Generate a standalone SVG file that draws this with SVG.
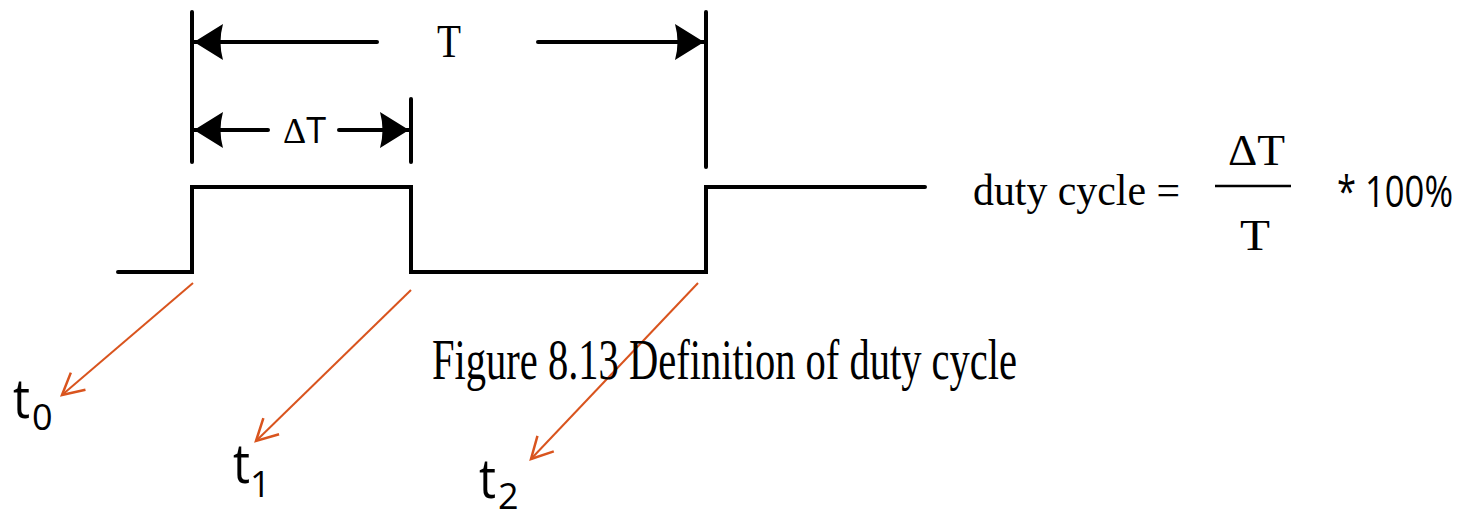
<svg xmlns="http://www.w3.org/2000/svg" width="1462" height="512" viewBox="0 0 1462 512">
<style>
.blk{fill:none;stroke:#000;stroke-width:4;stroke-linecap:round}
.red{fill:none;stroke:#D9541E;stroke-width:2}
.serif{font-family:"Liberation Serif","Times New Roman",serif;fill:#000}
.sans{font-family:"Open Sans","Noto Sans",sans-serif;fill:#000}
.tl{font-size:54px}
.sub{font-size:36px}
</style>
<defs>
<marker id="ah" markerUnits="userSpaceOnUse" markerWidth="40" markerHeight="40" viewBox="-32 -20 34 40" refX="0" refY="0" orient="auto">
<path d="M0,0 L-29,-18 Q-24,0 -29,18 Z" fill="#000"/>
</marker>
<marker id="ra" markerUnits="userSpaceOnUse" markerWidth="30" markerHeight="30" viewBox="-20 -12 22 24" refX="0" refY="0" orient="auto">
<path d="M-17,-9 L0,0 L-17,9" fill="none" stroke="#D9541E" stroke-width="2"/>
</marker>
</defs>
<rect width="1462" height="512" fill="#fff"/>
<g id="waveform">
<polyline class="blk" stroke-linejoin="miter" points="118,272 192,272 192,187 411,187 411,272 706,272 706,187 925,187"/>
</g>
<g id="dimensions">
<line class="blk" x1="192" y1="12" x2="192" y2="162"/>
<line class="blk" x1="411" y1="99" x2="411" y2="162"/>
<line class="blk" x1="706" y1="12" x2="706" y2="167"/>
<line class="blk" x1="377" y1="42" x2="194" y2="42" marker-end="url(#ah)"/>
<line class="blk" x1="538" y1="42" x2="704" y2="42" marker-end="url(#ah)"/>
<line class="blk" x1="268" y1="130" x2="194" y2="130" marker-end="url(#ah)"/>
<line class="blk" x1="339" y1="130" x2="409" y2="130" marker-end="url(#ah)"/>
<text class="serif" x="437" y="57" font-size="46" textLength="24" lengthAdjust="spacingAndGlyphs">T</text>
<text x="283" y="143" font-size="36"><tspan class="serif">Δ</tspan><tspan class="sans">T</tspan></text>
</g>
<g id="connectors">
<line class="red" x1="193" y1="283" x2="62" y2="395" marker-end="url(#ra)"/>
<line class="red" x1="411" y1="290" x2="256" y2="441" marker-end="url(#ra)"/>
<line class="red" x1="698" y1="283" x2="531" y2="459" marker-end="url(#ra)"/>
</g>
<g id="t0"><text class="sans tl" x="13" y="418" textLength="17" lengthAdjust="spacingAndGlyphs">t</text><text class="sans sub" x="32" y="430">0</text></g>
<g id="t1"><text class="sans tl" x="233" y="483" textLength="17" lengthAdjust="spacingAndGlyphs">t</text><text class="sans sub" x="250" y="497">1</text></g>
<g id="t2"><text class="sans tl" x="479" y="498" textLength="17" lengthAdjust="spacingAndGlyphs">t</text><text class="sans sub" x="498" y="509" font-size="32">2</text></g>
<g id="formula">
<text class="serif" x="973" y="205" font-size="44" textLength="207" lengthAdjust="spacingAndGlyphs">duty cycle =</text>
<text class="serif" x="1228" y="165" font-size="44" textLength="57" lengthAdjust="spacingAndGlyphs">ΔT</text>
<line x1="1215" y1="186" x2="1291" y2="186" stroke="#000" stroke-width="2.5"/>
<text class="serif" x="1240" y="250" font-size="44" textLength="30" lengthAdjust="spacingAndGlyphs">T</text>
<text class="sans" x="1337" y="207" font-size="44" textLength="116" lengthAdjust="spacingAndGlyphs">* 100%</text>
</g>
<g id="caption">
<text class="serif" x="432" y="379" font-size="56" textLength="585" lengthAdjust="spacingAndGlyphs">Figure 8.13 Definition of duty cycle</text>
</g>
</svg>
